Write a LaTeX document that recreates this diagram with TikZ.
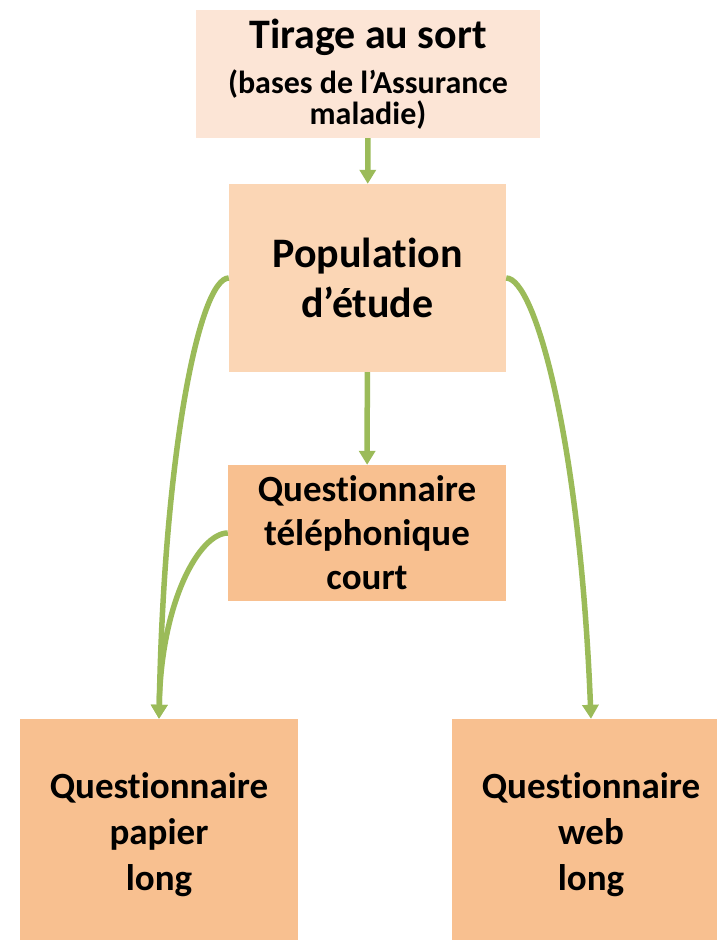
\documentclass[tikz,border=0pt]{standalone}
\usepackage{fontspec}
\setmainfont{Carlito}[Ligatures=NoCommon]
\usepackage{tikz}
\usetikzlibrary{
    arrows.meta,% for the Triangle tips
    positioning%
}

\definecolor{peachlight}{HTML}{FCE5D6}
\definecolor{peachmid}{HTML}{FBD6B5}
\definecolor{peachdark}{HTML}{F8C090}
\definecolor{arrowgreen}{HTML}{9BBB59}

\begin{document}
\begin{tikzpicture}[x=1pt,y=-1pt,
    box/.style={rectangle, inner sep=0pt, align=center, font=\bfseries},
    link/.style={draw=arrowgreen, line width=5.5pt, -{Triangle[width=16pt,length=14pt]}}]
    \useasboundingbox (0,0) rectangle (717,940);

    \node[box, fill=peachlight, minimum width=344pt, minimum height=128pt, text width=340pt]
        (tirage) at (368,74)
        {{\fontsize{42}{45}\selectfont\spaceskip=0.226em\relax Tirage au sort\par}\vskip 14pt
         {\fontsize{32}{31}\selectfont\spaceskip=0.226em\relax (bases de l’Assurance\\ maladie)\par}};

    \node[box, fill=peachmid, minimum width=277pt, minimum height=188pt,
        font=\bfseries\fontsize{42}{50}\selectfont]
        (population) at (367.5,278) {Population\\ d’étude};

    \node[box, fill=peachdark, minimum width=278pt, minimum height=136pt,
        font=\bfseries\fontsize{37}{44}\selectfont]
        (telephone) at (367,533) {Questionnaire\\ téléphonique\\ court};

    \node[box, fill=peachdark, minimum width=278pt, minimum height=232pt,
        font=\bfseries\fontsize{37}{46}\selectfont]
        (papier) at (159,835) {Questionnaire\\ papier\\ long};

    \node[box, fill=peachdark, minimum width=278pt, minimum height=232pt,
        font=\bfseries\fontsize{37}{46}\selectfont]
        (web) at (591,835) {Questionnaire\\ web\\ long};

    \draw[link] (tirage) -- (population); %%% down to the study population
    \draw[link] (population) -- (telephone);

    \draw[link] (population.west) %%% population to paper
    .. controls +(-29,0) and +(5,-268) .. (papier.north);

    \draw[link] (telephone.west) %%% phone to paper
    .. controls +(-28,0) and +(2,-118) .. (papier.north);

    \draw[link] (population.east) %%% population to web
    .. controls +(29,0) and +(-11,-278) .. (web.north);
\end{tikzpicture}
\end{document}
